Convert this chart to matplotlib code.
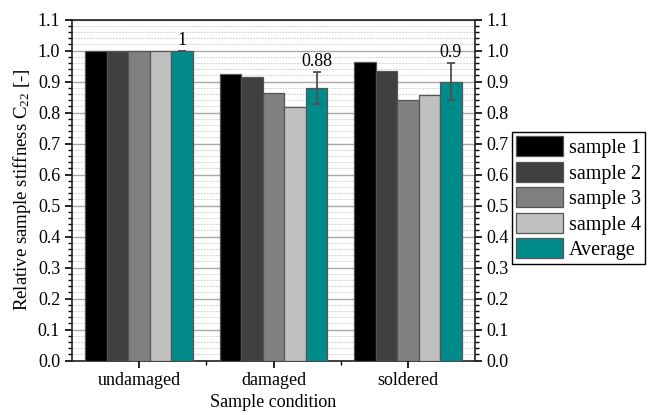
import matplotlib
matplotlib.use("Agg")
import matplotlib.pyplot as plt
import numpy as np
from matplotlib.ticker import MultipleLocator

categories = ["undamaged", "damaged", "soldered"]
series_names = ["sample 1", "sample 2", "sample 3", "sample 4", "Average"]
sample1 = [1.0, 0.925, 0.963]
sample2 = [1.0, 0.916, 0.935]
sample3 = [1.0, 0.862, 0.841]
sample4 = [1.0, 0.817, 0.856]
average = [1.0, 0.88, 0.90]
avg_err = [0.0, 0.051, 0.059]
avg_labels = ["1", "0.88", "0.9"]

colors = ["#000000", "#404040", "#808080", "#c0c0c0", "#008b8b"]

plt.rcParams['font.family'] = ['Liberation Serif', 'DejaVu Serif']
plt.rcParams['mathtext.fontset'] = 'custom'
plt.rcParams['mathtext.rm'] = 'Liberation Serif'
plt.rcParams['mathtext.it'] = 'Liberation Serif:italic'

fig = plt.figure(figsize=(6.49, 4.15), dpi=100)
ax = fig.add_axes([0.111, 0.131, 0.621, 0.822])

x = np.arange(1, len(categories) + 1)
w = 0.16
data = [sample1, sample2, sample3, sample4, average]
for i, (vals, name, c) in enumerate(zip(data, series_names, colors)):
    pos = x + (i - 2) * w
    kw = {}
    if name == "Average":
        kw = dict(yerr=avg_err, error_kw=dict(ecolor="#505050", elinewidth=1.3, capsize=3, capthick=1.3))
    ax.bar(pos, vals, width=w, color=c, edgecolor="#555555", linewidth=0.9, label=name, zorder=3, **kw)
    if name == "Average":
        for p, v, e, lab in zip(pos, vals, avg_err, avg_labels):
            ax.text(p, v + e + 0.006, lab, ha="center", va="bottom", fontsize=13, zorder=5)

ax.set_xlim(0.5, 3.5)
ax.set_ylim(0, 1.1)
ax.set_xticks(x)
ax.set_xticklabels(categories)
ax.set_xticks([1.5, 2.5], minor=True)
ax.yaxis.set_major_locator(MultipleLocator(0.1))
ax.yaxis.set_minor_locator(MultipleLocator(0.02))
ax.yaxis.set_major_formatter(plt.FuncFormatter(lambda v, p: f"{v:.1f}"))
ax.grid(axis="y", which="major", color="#a8a8a8", linewidth=1.0, zorder=0)
ax.grid(axis="y", which="minor", color="#c8c8c8", linewidth=0.6, linestyle=(0, (2, 1.5)), zorder=0)
ax.set_axisbelow(True)

ax.tick_params(axis="both", which="major", direction="out", length=5, width=1.2, labelsize=13, colors="#000000")
ax.tick_params(axis="y", which="minor", direction="out", length=3, width=1)
ax.tick_params(axis="x", which="minor", direction="out", length=3, width=1)
ax.tick_params(axis="y", which="both", right=True, labelright=True)
for s in ax.spines.values():
    s.set_linewidth(1.2)
    s.set_color("#202020")

ax.set_xlabel("Sample condition", fontsize=13, labelpad=3)
ax.set_ylabel("Relative sample stiffness C$_{22}$ [-]", fontsize=13.5, labelpad=3)

leg = ax.legend(loc="center left", bbox_to_anchor=(1.091, 0.476), fontsize=14.5, frameon=True,
                fancybox=False, edgecolor="#000000", framealpha=1, borderpad=0.2,
                handlelength=2.35, handleheight=1.15, handletextpad=0.3, labelspacing=0.18,
                borderaxespad=0)
leg.get_frame().set_linewidth(1.0)

fig.savefig("out.png", dpi=100)
